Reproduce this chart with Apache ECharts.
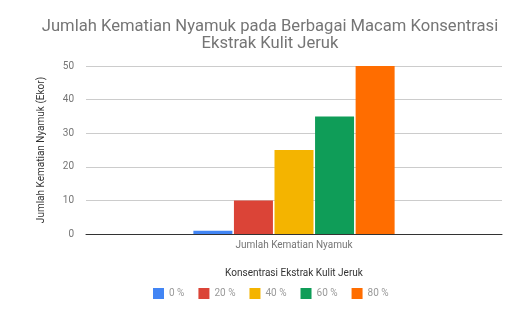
<!DOCTYPE html>
<html><head><meta charset="utf-8">
<script src="https://cdn.jsdelivr.net/npm/echarts@6/dist/echarts.min.js"></script>
<style>html,body{margin:0;padding:0;background:#fff}#c{width:510px;height:311px}</style>
</head><body><div id="c"></div>
<script>
const categories = ['Jumlah Kematian Nyamuk'];
const seriesNames = ['0 %', '20 %', '40 %', '60 %', '80 %'];
const seriesValues = [[1], [10], [25], [35], [50]];
const colors = ['#4285f4', '#db4437', '#f4b400', '#0f9d58', '#ff6d00'];
const chart = echarts.init(document.getElementById('c'));
chart.setOption({
  animation: false,
  title: {
    text: 'Jumlah Kematian Nyamuk pada Berbagai Macam Konsentrasi\nEkstrak Kulit Jeruk',
    left: 265, top: 13, textAlign: 'center',
    textStyle: {fontFamily: 'Roboto', fontSize: 16.6, fontWeight: 'normal', color: '#757575', lineHeight: 17}
  },
  legend: {
    top: 283, left: 148, itemWidth: 11, itemHeight: 11, itemGap: 14, icon: 'rect',
    textStyle: {fontFamily: 'Roboto', fontSize: 10, color: '#999999'}
  },
  grid: {left: 86, right: 8, top: 66, bottom: 77},
  xAxis: {
    type: 'category', data: categories,
    name: 'Konsentrasi Ekstrak Kulit Jeruk', nameLocation: 'middle', nameGap: 34,
    nameTextStyle: {fontFamily: 'Roboto', fontSize: 10, color: '#333'},
    axisLine: {lineStyle: {color: '#333'}}, axisTick: {show: false},
    axisLabel: {fontFamily: 'Roboto', fontSize: 10, color: '#757575', margin: 6}
  },
  yAxis: {
    type: 'value', min: 0, max: 50, interval: 10,
    name: 'Jumlah Kematian Nyamuk (Ekor)', nameLocation: 'middle', nameGap: 40,
    nameTextStyle: {fontFamily: 'Roboto', fontSize: 10, color: '#333'},
    axisLine: {show: false}, axisTick: {show: false},
    axisLabel: {fontFamily: 'Roboto', fontSize: 10, color: '#757575', margin: 12},
    splitLine: {lineStyle: {color: '#cccccc'}}
  },
  series: seriesNames.map((n, i) => ({
    name: n, type: 'bar', data: seriesValues[i], barWidth: 39, barGap: '4%',
    itemStyle: {color: colors[i]}
  }))
});
</script></body></html>
